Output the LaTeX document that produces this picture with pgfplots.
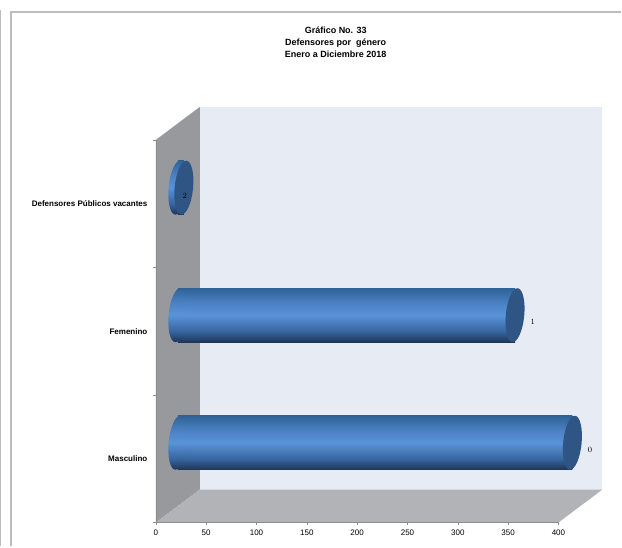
\documentclass[border=0pt]{standalone}
\usepackage{pgfplots}
\pgfplotsset{compat=1.18}
\usepackage{fontspec}
\setmainfont{Liberation Sans}
\definecolor{wallL}{HTML}{98999C}
\definecolor{floorC}{HTML}{B1B3B6}
\definecolor{backC}{HTML}{E7EBF4}
\definecolor{frameC}{HTML}{BDBDBD}
\definecolor{tickC}{HTML}{8C8C8C}
\definecolor{capC}{HTML}{2F5585}
\definecolor{cylA}{HTML}{1D3555}
\definecolor{cylB}{HTML}{37659F}
\definecolor{cylC}{HTML}{5A93D8}
\definecolor{cylD}{HTML}{4A80C2}
\definecolor{cylE}{HTML}{2F6296}
\pgfdeclareverticalshading{cyl}{100bp}{
 color(0bp)=(cylA);
 color(25bp)=(cylA);
 color(35bp)=(cylB);
 color(50bp)=(cylC);
 color(62bp)=(cylD);
 color(75bp)=(cylE);
 color(100bp)=(cylE)}
\pgfdeclareplotmark{cylcap}{\pgfpathellipse{\pgfpointorigin}{\pgfqpoint{9.2pt}{-0.7pt}}{\pgfqpoint{2.6pt}{27pt}}\pgfshadepath{cyl}{0}\pgfusepath{discard}}
\pgfdeclareplotmark{cylend}{\pgfpathellipse{\pgfpointorigin}{\pgfqpoint{9.2pt}{-0.7pt}}{\pgfqpoint{2.6pt}{27pt}}\pgfsetfillcolor{capC}\pgfusepathqfill}
\begin{document}
\begin{tikzpicture}[x=1pt,y=1pt]
\fill[white] (0,0) rectangle (622,547);
% page frames
\draw[frameC,line width=1.2pt] (0.6,0) -- (0.6,537);
\draw[frameC,line width=1.2pt] (11,0) -- (11,535) -- (622,535);
% 3D walls
\fill[backC] (200,57) rectangle (603,440);
\fill[wallL] (156,24) -- (200,57) -- (200,440) -- (156,407) -- cycle;
\fill[floorC] (156,24) -- (559,24) -- (603,57) -- (200,57) -- cycle;
\node[font=\fontsize{9}{12}\selectfont\bfseries,align=center,anchor=center] at (336,505)
 {Gráfico No. 33\\Defensores por\ \ género\\Enero a Diciembre 2018};
% frame axis with ticks and labels
\begin{axis}[
 at={(156pt,24pt)},anchor=south west,scale only axis,width=403pt,height=383pt,
 xmin=0,xmax=400,ymin=-0.5,ymax=2.5,
 axis x line=bottom,axis y line=left,
 axis line style={tickC,-},
 tick style={tickC},
 xtick={0,50,...,400},
 ytick={-0.5,0.5,1.5,2.5},yticklabels={},
 extra y ticks={0,1,2},
 extra y tick labels={Masculino,Femenino,Defensores Públicos vacantes},
 extra y tick style={major tick length=0pt,tick style={draw=none},
   yticklabel style={font=\fontsize{8}{10}\selectfont\bfseries,xshift=-5pt}},
 x tick label style={font=\fontsize{8}{10}\selectfont,yshift=-1pt},
 tick align=outside,major tick length=3pt,
 /pgf/number format/assume math mode=true,
]
\end{axis}
% cylinders, plane half way into the depth of the box
\begin{axis}[
 at={(178pt,40pt)},anchor=south west,scale only axis,width=403pt,height=383pt,
 xmin=0,xmax=400,ymin=-0.5,ymax=2.5,
 axis lines=none,clip=false,
]
\addplot[only marks,mark=cylcap] coordinates {(0,0) (0,1) (0,2)};
\addplot[xbar,bar width=54pt,draw=none,shade,shading=cyl,forget plot] coordinates {(392,0)};
\addplot[xbar,bar width=54pt,draw=none,shade,shading=cyl,forget plot] coordinates {(335,1)};
\addplot[xbar,bar width=54pt,draw=none,shade,shading=cyl,forget plot] coordinates {(6,2)};
\addplot[only marks,mark=cylend,
  nodes near coords,
  every node near coord/.append style={font=\fontsize{8}{10}\selectfont\bfseries,anchor=west,xshift=12pt,yshift=-7pt}]
  coordinates {(392,0) (335,1)};
\addplot[only marks,mark=cylend,
  nodes near coords,
  every node near coord/.append style={font=\fontsize{8}{10}\selectfont\bfseries,anchor=center,yshift=-8pt,xshift=1pt}]
  coordinates {(6,2)};
\end{axis}
\end{tikzpicture}
\end{document}
